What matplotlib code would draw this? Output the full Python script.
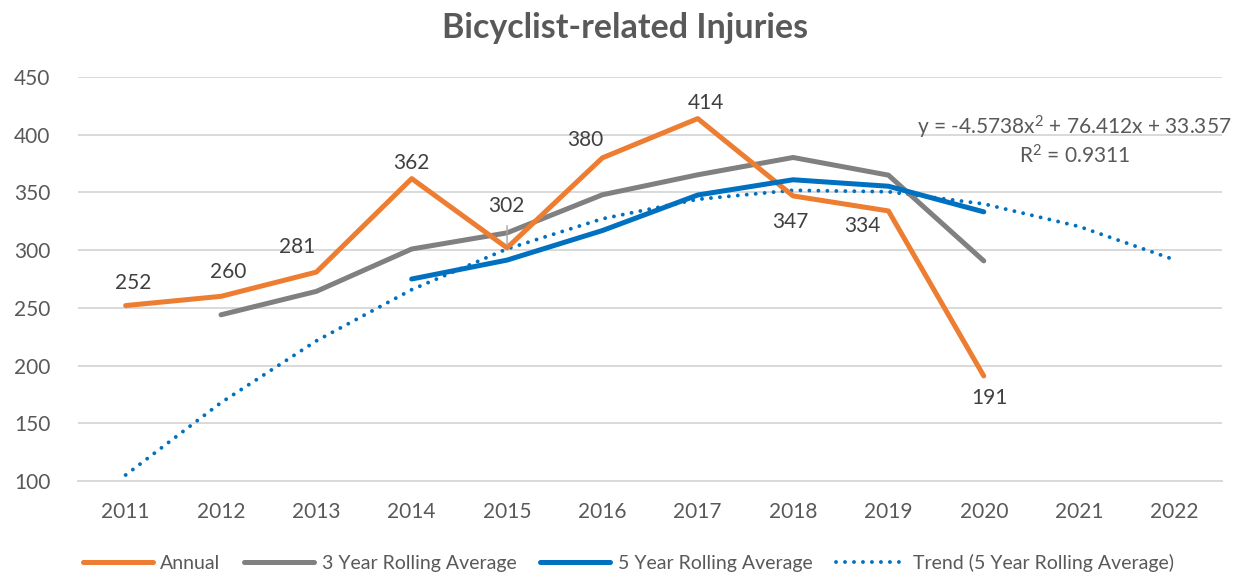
import numpy as np
import matplotlib.pyplot as plt

plt.rcParams['font.family'] = ['Lato', 'DejaVu Sans']
plt.rcParams['mathtext.fontset'] = 'custom'
plt.rcParams['mathtext.rm'] = 'Lato'
plt.rcParams['mathtext.it'] = 'Lato:italic'

years = ["2011", "2012", "2013", "2014", "2015", "2016",
         "2017", "2018", "2019", "2020", "2021", "2022"]

annual = [252, 260, 281, 362, 302, 380, 414, 347, 334, 191]
roll3 = [None, 244, 264.3, 301, 315, 348, 365.3, 380.3, 365, 290.7]
roll5 = [None, None, None, 275, 291.4, 317, 347.8, 361, 355.4, 333.2]
trend = [105.2, 167.9, 221.4, 265.8, 301.1, 327.2, 344.1, 351.9, 350.6, 340.1, 320.5, 291.7]

# label offsets in pixels (dx, dy) for annual data labels
lab_off = [(8, 23), (7, 24), (-19, 25), (0, 16), (-1, 42), (-17, 18),
           (8, 16), (-3, -26), (-26, -15), (6, -22)]

c_orange = "#ED7D31"
c_gray = "#808080"
c_blue = "#0070C0"
c_text = "#595959"

fig = plt.figure(figsize=(12.42, 5.75), dpi=100)
ax = fig.add_axes([0.0628, 0.1635, 0.9212, 0.7025])

x = np.arange(len(years))


def series(vals):
    xs = [i for i, v in enumerate(vals) if v is not None]
    ys = [v for v in vals if v is not None]
    return xs, ys


ax.plot(*series(annual), color=c_orange, lw=3.6, solid_capstyle="round",
        solid_joinstyle="round", label="Annual", zorder=4)
ax.plot(*series(roll3), color=c_gray, lw=3.6, solid_capstyle="round",
        solid_joinstyle="round", label="3 Year Rolling Average", zorder=3)
ax.plot(*series(roll5), color=c_blue, lw=3.6, solid_capstyle="round",
        solid_joinstyle="round", label="5 Year Rolling Average", zorder=5)
ax.plot(x, trend, color=c_blue, lw=2.8, linestyle=(0, (0.01, 2.3)),
        dash_capstyle="round", label="Trend (5 Year Rolling Average)", zorder=2)

for i, (v, (dx, dy)) in enumerate(zip(annual, lab_off)):
    ax.annotate(str(v), (i, v), xytext=(dx, dy), textcoords="offset pixels",
                ha="center", va="center", fontsize=15, color="#404040", zorder=6)

# leader line for the 302 label
ax.annotate("", (4, annual[4]), xytext=(0, 25), textcoords="offset pixels",
            arrowprops=dict(arrowstyle="-", color="#A6A6A6", lw=1), zorder=6)

ax.text(1.008, 0.875, r"y = -4.5738x$^{\mathrm{2}}$ + 76.412x + 33.357", transform=ax.transAxes,
        ha="right", va="center", fontsize=15, color=c_text)
ax.text(0.871, 0.806, r"R$^{\mathrm{2}}$ = 0.9311", transform=ax.transAxes,
        ha="center", va="center", fontsize=15, color=c_text)

ax.set_xlim(-0.5, len(years) - 0.5)
ax.set_ylim(100, 450)
ax.set_yticks(np.arange(100, 451, 50))
ax.set_xticks(x)
ax.set_xticklabels(years)
ax.tick_params(axis="both", length=0, labelsize=15, colors=c_text)
ax.tick_params(axis="x", pad=15)
ax.tick_params(axis="y", pad=20)
ax.grid(axis="y", color="#D9D9D9", lw=1.4)
ax.set_axisbelow(True)
for s in ["top", "right", "left"]:
    ax.spines[s].set_visible(False)
ax.spines["bottom"].set_color("#D9D9D9")
ax.spines["bottom"].set_linewidth(1.4)

fig.suptitle("Bicyclist-related Injuries", x=0.503, y=0.98, fontsize=24.5,
             fontweight="bold", color=c_text)

fig.legend(loc="center", bbox_to_anchor=(0.506, 0.021), ncol=4, frameon=False,
           fontsize=14, handlelength=3.6, columnspacing=1.2, handletextpad=0.4,
           labelcolor=c_text)

fig.savefig("out.png", dpi=100)
